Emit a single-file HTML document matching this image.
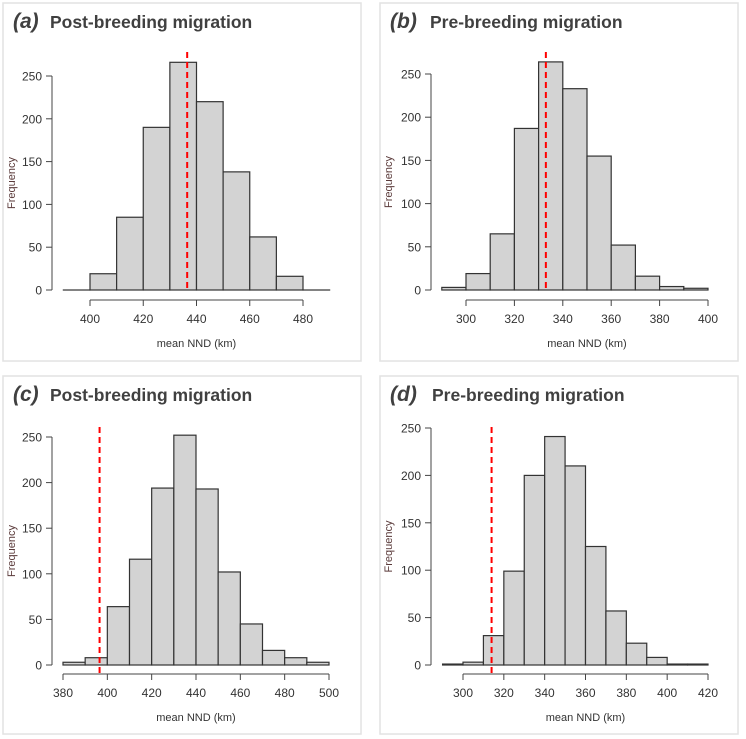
<!DOCTYPE html>
<html><head><meta charset="utf-8">
<style>
html,body{margin:0;padding:0;background:#fff;}
svg{display:block;font-family:"Liberation Sans",sans-serif;}
</style></head>
<body>
<svg id="fig" width="746" height="739" viewBox="0 0 746 739"></svg>
<script>
// Panel (a)
const aBins = [390,400,410,420,430,440,450,460,470,480];
const aCounts = [0,19,85,190,266,220,138,62,16,0];
const aTicksX = [400,420,440,460,480];
const aRef = 436.5;
// Panel (b)
const bBins = [290,300,310,320,330,340,350,360,370,380,390];
const bCounts = [3,19,65,187,264,233,155,52,16,4,2];
const bTicksX = [300,320,340,360,380,400];
const bRef = 333;
// Panel (c)
const cBins = [380,390,400,410,420,430,440,450,460,470,480,490];
const cCounts = [3,8,64,116,194,252,193,102,45,16,8,3];
const cTicksX = [380,400,420,440,460,480,500];
const cRef = 396.5;
// Panel (d)
const dBins = [290,300,310,320,330,340,350,360,370,380,390,400,410];
const dCounts = [1,3,31,99,200,241,210,125,57,23,8,1,1];
const dTicksX = [300,320,340,360,380,400,420];
const dRef = 314;
const yTicks = [0,50,100,150,200,250];
const binWidth = 10;

const NS="http://www.w3.org/2000/svg";
const svg=document.getElementById('fig');
function mk(tag,attrs,parent){const e=document.createElementNS(NS,tag);for(const k in attrs)e.setAttribute(k,attrs[k]);(parent||svg).appendChild(e);return e;}

function panel(cfg){
  const g=mk('g',{});
  
  
  const fr=mk('rect',{x:cfg.bx,y:cfg.by,width:358,height:358,fill:'#fff',stroke:'#e2e2e2','stroke-width':1.5},g);
  
  
  const t1=mk('text',{x:cfg.bx+10,y:cfg.by+25,'font-size':21,'font-weight':'bold','font-style':'italic',fill:'#404040'},g);
  t1.textContent='('+cfg.letter+')';
  
  
  const t2=mk('text',{x:cfg.bx+cfg.tx,y:cfg.by+25,'font-size':17.5,'font-weight':'bold',fill:'#404040'},g);
  t2.textContent=cfg.title;
  
  
  const X=v=>cfg.x0+(v-cfg.xv0)*(cfg.x1-cfg.x0)/(cfg.xv1-cfg.xv0);
  const Y=v=>cfg.y0-(v*(cfg.y0-cfg.y250)/250);
  cfg.bins.forEach((b,i)=>{
    const c=cfg.counts[i];
    const r=mk('rect',{x:X(b),y:Y(c),width:X(b+binWidth)-X(b),height:Math.max(Y(0)-Y(c),0.01),fill:'#d3d3d3',stroke:'#333','stroke-width':1.2},g);
    
    
  });
  const ya=mk('g',{},g);
  
  
  mk('line',{x1:cfg.yx,x2:cfg.yx,y1:Y(0),y2:Y(250),stroke:'#444','stroke-width':1},ya);
  yTicks.forEach(v=>{
    mk('line',{x1:cfg.yx-6,x2:cfg.yx,y1:Y(v),y2:Y(v),stroke:'#444','stroke-width':1},ya);
    const t=mk('text',{x:cfg.yx-10,y:Y(v)+4.5,'font-size':12,'text-anchor':'end',fill:'#333'},ya);
    t.textContent=v;
    
    
  });
  const yl=mk('text',{x:0,y:0,'font-size':11,'text-anchor':'middle',fill:'#5a3a3a',transform:`translate(${cfg.bx+12},${(Y(0)+Y(250))/2}) rotate(-90)`},g);
  yl.textContent='Frequency';
  
  
  const xa=mk('g',{},g);
  
  
  const tx=cfg.ticksX;
  mk('line',{x1:X(tx[0]),x2:X(tx[tx.length-1]),y1:cfg.ax,y2:cfg.ax,stroke:'#444','stroke-width':1},xa);
  tx.forEach(v=>{
    mk('line',{x1:X(v),x2:X(v),y1:cfg.ax,y2:cfg.ax+6,stroke:'#444','stroke-width':1},xa);
    const t=mk('text',{x:X(v),y:cfg.ax+23,'font-size':12,'text-anchor':'middle',fill:'#333'},xa);
    t.textContent=v;
    
    
  });
  const xl=mk('text',{x:(X(tx[0])+X(tx[tx.length-1]))/2,y:cfg.ax+47,'font-size':11,'text-anchor':'middle',fill:'#333'},g);
  xl.textContent='mean NND (km)';
  
  
  const rl=mk('line',{x1:X(cfg.ref),x2:X(cfg.ref),y1:cfg.refTop,y2:cfg.ax+(cfg.refToAxis?0:-10),stroke:'#ff0000','stroke-width':2,'stroke-dasharray':'6,4'},g);
  
  
}
panel({letter:'a',title:'Post-breeding migration',bx:3,by:3,tx:47,bins:aBins,counts:aCounts,ticksX:aTicksX,ref:aRef,
  x0:90,xv0:400,x1:303,xv1:480,y0:290,y250:76,yx:52,ax:300,refTop:52,refToAxis:false});
panel({letter:'b',title:'Pre-breeding migration',bx:380,by:3,tx:50,bins:bBins,counts:bCounts,ticksX:bTicksX,ref:bRef,
  x0:466,xv0:300,x1:708,xv1:400,y0:290,y250:74,yx:431,ax:300,refTop:52,refToAxis:false});
panel({letter:'c',title:'Post-breeding migration',bx:3,by:376,tx:47,bins:cBins,counts:cCounts,ticksX:cTicksX,ref:cRef,
  x0:63,xv0:380,x1:329,xv1:500,y0:665,y250:437,yx:52,ax:674,refTop:427,refToAxis:true});
panel({letter:'d',title:'Pre-breeding migration',bx:380,by:376,tx:52,bins:dBins,counts:dCounts,ticksX:dTicksX,ref:dRef,
  x0:463,xv0:300,x1:708,xv1:420,y0:665,y250:428,yx:431,ax:674,refTop:427,refToAxis:true});
</script>
</body></html>
